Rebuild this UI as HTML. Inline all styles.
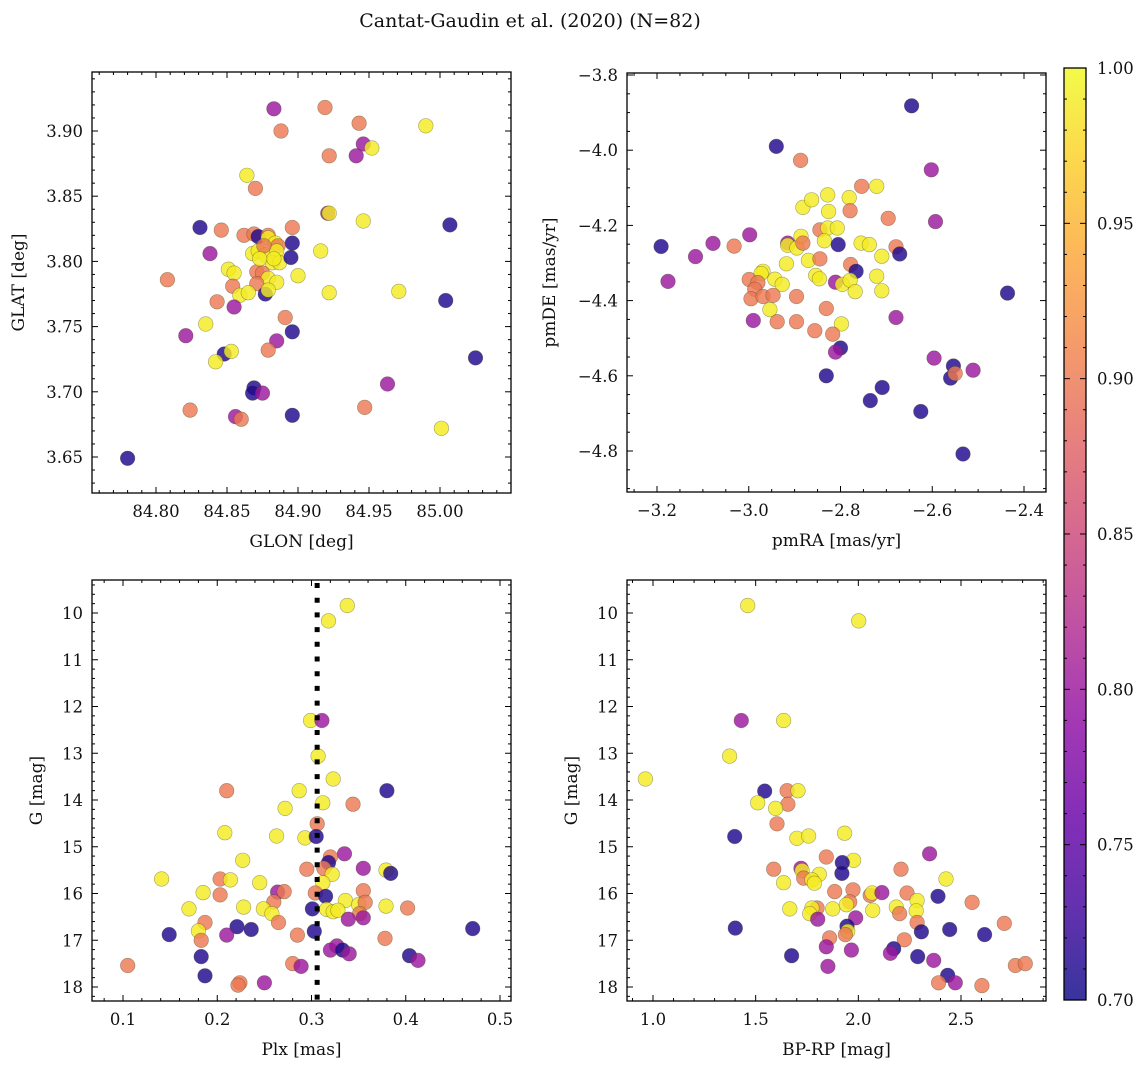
<!DOCTYPE html>
<html><head><meta charset="utf-8"><style>
html,body{margin:0;padding:0;background:#fff;}
svg text{font-family:"DejaVu Serif","Liberation Serif",serif;fill:#111;}
</style></head><body>
<svg id="fig" width="1148" height="1068" viewBox="0 0 1148 1068" xmlns="http://www.w3.org/2000/svg">
<text x="530" y="27" font-size="19" text-anchor="middle">Cantat-Gaudin et al. (2020) (N=82)</text>
<g id="layer"></g>
</svg>
<script>
// ---- Panel 1: GLON vs GLAT ----
const glon = [84.883,84.919,84.888,84.943,84.990,84.946,84.952,84.941,84.922,84.864,84.870,84.921,84.922,84.946,84.831,84.846,84.862,84.869,84.872,84.879,84.896,85.007,84.879,84.884,84.896,84.886,84.838,84.868,84.872,84.877,84.885,84.882,84.887,84.895,84.916,84.851,84.855,84.871,84.875,84.808,84.900,84.879,84.885,84.871,84.854,84.859,84.865,84.877,84.879,84.922,84.971,84.843,85.004,84.855,84.891,84.835,84.896,84.821,84.885,84.879,84.848,84.853,84.842,85.025,84.869,84.868,84.875,84.963,84.824,84.947,84.856,84.860,84.896,85.001,84.780,84.876,84.883,84.873];
const glat = [3.917,3.918,3.900,3.906,3.904,3.890,3.887,3.881,3.881,3.866,3.856,3.837,3.837,3.831,3.826,3.824,3.820,3.821,3.819,3.820,3.826,3.828,3.818,3.814,3.814,3.812,3.806,3.806,3.808,3.805,3.808,3.799,3.799,3.803,3.808,3.794,3.791,3.792,3.791,3.786,3.789,3.787,3.784,3.783,3.781,3.774,3.776,3.775,3.778,3.776,3.777,3.769,3.770,3.765,3.757,3.752,3.746,3.743,3.739,3.732,3.729,3.731,3.723,3.726,3.703,3.699,3.699,3.706,3.686,3.688,3.681,3.679,3.682,3.672,3.649,3.812,3.802,3.802];
const prob1 = [0.80,0.90,0.90,0.90,0.99,0.80,0.99,0.80,0.90,0.99,0.90,0.80,0.99,0.99,0.71,0.90,0.90,0.90,0.71,0.90,0.90,0.71,0.99,0.99,0.71,0.90,0.80,0.99,0.99,0.99,0.99,0.99,0.99,0.71,0.99,0.99,0.99,0.90,0.90,0.90,0.99,0.99,0.99,0.90,0.90,0.99,0.99,0.71,0.99,0.99,0.99,0.90,0.71,0.80,0.90,0.99,0.71,0.80,0.80,0.90,0.71,0.99,0.99,0.71,0.71,0.71,0.80,0.80,0.90,0.90,0.80,0.90,0.71,0.99,0.71,0.90,0.99,0.99];

// ---- Panel 2: pmRA vs pmDE ----
const pmra = [-3.191,-3.176,-3.116,-3.078,-3.032,-2.998,-2.940,-2.887,-2.915,-2.915,-2.895,-2.886,-2.882,-2.882,-2.863,-2.845,-2.828,-2.807,-2.835,-2.828,-2.826,-2.781,-2.754,-2.721,-2.779,-2.696,-2.805,-2.755,-2.737,-2.679,-2.671,-2.710,-2.602,-2.593,-2.645,-2.436,-2.918,-2.870,-2.845,-2.778,-2.766,-2.969,-2.973,-2.943,-2.927,-2.854,-2.846,-2.811,-2.796,-2.779,-2.768,-2.721,-2.710,-2.999,-2.980,-2.987,-2.995,-2.969,-2.947,-2.896,-2.954,-2.990,-2.938,-2.896,-2.831,-2.798,-2.856,-2.817,-2.800,-2.811,-2.679,-2.831,-2.735,-2.709,-2.625,-2.596,-2.554,-2.560,-2.550,-2.511,-2.533];
const pmde = [-4.256,-4.349,-4.283,-4.248,-4.255,-4.225,-3.990,-4.027,-4.247,-4.253,-4.260,-4.229,-4.247,-4.152,-4.132,-4.212,-4.207,-4.207,-4.241,-4.119,-4.163,-4.126,-4.096,-4.096,-4.161,-4.181,-4.251,-4.247,-4.251,-4.257,-4.276,-4.282,-4.052,-4.190,-3.882,-4.380,-4.302,-4.293,-4.289,-4.304,-4.322,-4.322,-4.328,-4.343,-4.357,-4.333,-4.342,-4.351,-4.357,-4.346,-4.376,-4.335,-4.374,-4.344,-4.352,-4.370,-4.395,-4.389,-4.386,-4.389,-4.424,-4.453,-4.456,-4.456,-4.421,-4.462,-4.480,-4.489,-4.526,-4.537,-4.445,-4.600,-4.666,-4.631,-4.695,-4.553,-4.574,-4.606,-4.594,-4.585,-4.808];
const prob2 = [0.71,0.80,0.80,0.80,0.90,0.80,0.71,0.90,0.80,0.99,0.99,0.99,0.90,0.99,0.99,0.90,0.99,0.99,0.99,0.99,0.99,0.99,0.90,0.99,0.90,0.90,0.71,0.99,0.99,0.90,0.71,0.99,0.80,0.80,0.71,0.71,0.99,0.99,0.90,0.90,0.71,0.99,0.99,0.99,0.99,0.99,0.99,0.80,0.99,0.99,0.99,0.99,0.99,0.90,0.90,0.90,0.90,0.90,0.90,0.90,0.99,0.80,0.90,0.90,0.90,0.99,0.90,0.90,0.71,0.80,0.80,0.71,0.71,0.71,0.71,0.80,0.71,0.71,0.90,0.80,0.71];

// ---- Panel 3: Plx vs G ----
const plx = [0.338,0.318,0.299,0.311,0.307,0.323,0.287,0.210,0.380,0.312,0.344,0.272,0.306,0.208,0.263,0.293,0.305,0.227,0.335,0.320,0.318,0.355,0.295,0.313,0.322,0.379,0.384,0.141,0.203,0.214,0.245,0.312,0.185,0.203,0.264,0.271,0.304,0.315,0.355,0.260,0.336,0.350,0.357,0.379,0.402,0.170,0.228,0.249,0.258,0.301,0.316,0.323,0.328,0.351,0.339,0.355,0.187,0.265,0.221,0.236,0.149,0.180,0.210,0.285,0.303,0.471,0.183,0.378,0.320,0.327,0.333,0.340,0.183,0.404,0.413,0.105,0.280,0.289,0.187,0.224,0.222,0.250];
const gmag3 = [9.84,10.17,12.30,12.30,13.06,13.55,13.80,13.80,13.80,14.06,14.09,14.18,14.51,14.70,14.77,14.81,14.78,15.29,15.15,15.22,15.34,15.46,15.48,15.46,15.59,15.50,15.57,15.69,15.69,15.71,15.77,15.77,15.98,16.03,15.97,15.96,15.99,16.06,15.94,16.18,16.15,16.24,16.19,16.27,16.31,16.33,16.29,16.33,16.43,16.33,16.34,16.39,16.36,16.43,16.55,16.52,16.62,16.62,16.71,16.77,16.88,16.80,16.89,16.89,16.81,16.75,17.00,16.96,17.21,17.12,17.21,17.29,17.35,17.33,17.43,17.54,17.50,17.56,17.76,17.91,17.96,17.91];
const prob3 = [0.99,0.99,0.99,0.80,0.99,0.99,0.99,0.90,0.71,0.99,0.90,0.99,0.90,0.99,0.99,0.99,0.71,0.99,0.80,0.90,0.71,0.80,0.90,0.90,0.99,0.99,0.71,0.99,0.90,0.99,0.99,0.99,0.99,0.90,0.80,0.90,0.90,0.71,0.90,0.90,0.99,0.99,0.90,0.99,0.90,0.99,0.99,0.99,0.99,0.71,0.99,0.99,0.99,0.90,0.80,0.80,0.90,0.90,0.71,0.71,0.71,0.99,0.80,0.90,0.71,0.71,0.90,0.90,0.80,0.80,0.71,0.80,0.71,0.71,0.80,0.90,0.90,0.80,0.71,0.90,0.90,0.80];
const plxRef = [0.306];

// ---- Panel 4: BP-RP vs G ----
const bprp = [1.461,2.002,1.430,1.636,1.373,0.963,1.544,1.653,1.706,1.657,1.510,1.597,1.604,1.398,1.701,1.758,1.933,1.844,1.977,1.922,1.920,2.347,1.588,1.721,1.726,1.734,1.810,1.774,1.786,2.208,2.427,1.636,1.885,1.974,2.058,2.067,2.115,2.237,2.388,2.554,2.286,2.282,2.185,2.201,2.286,2.307,2.445,2.615,2.711,1.958,1.942,2.070,1.875,1.799,1.774,1.763,1.666,1.802,1.987,1.945,1.948,1.937,1.860,1.401,2.224,1.844,1.966,2.172,2.156,2.289,2.367,1.675,1.852,2.765,2.813,2.435,2.391,2.472,2.602];
const gmag4 = [9.84,10.17,12.30,12.30,13.06,13.55,13.81,13.80,13.80,14.09,14.06,14.18,14.51,14.78,14.82,14.77,14.71,15.22,15.29,15.34,15.57,15.15,15.48,15.46,15.51,15.67,15.59,15.71,15.78,15.48,15.69,15.77,15.96,15.92,16.04,15.99,15.98,15.99,16.06,16.19,16.15,16.37,16.29,16.43,16.62,16.82,16.77,16.88,16.64,16.18,16.24,16.36,16.33,16.31,16.31,16.43,16.33,16.55,16.52,16.70,16.81,16.88,16.95,16.74,16.99,17.14,17.21,17.18,17.28,17.35,17.43,17.33,17.56,17.54,17.50,17.75,17.91,17.91,17.97];
const prob4 = [0.99,0.99,0.80,0.99,0.99,0.99,0.71,0.90,0.99,0.90,0.99,0.99,0.90,0.71,0.99,0.99,0.99,0.90,0.99,0.71,0.71,0.80,0.90,0.80,0.99,0.90,0.99,0.99,0.99,0.90,0.99,0.99,0.90,0.90,0.90,0.99,0.80,0.90,0.71,0.90,0.99,0.99,0.99,0.90,0.90,0.71,0.71,0.71,0.90,0.90,0.99,0.99,0.99,0.90,0.99,0.99,0.99,0.80,0.80,0.71,0.99,0.90,0.90,0.71,0.90,0.80,0.80,0.71,0.80,0.71,0.80,0.71,0.80,0.90,0.90,0.71,0.90,0.80,0.90];

// ---- Colorbar ----
const cbTicks = [0.70,0.75,0.80,0.85,0.90,0.95,1.00];

const NS = "http://www.w3.org/2000/svg";
const layer = document.getElementById('layer');
function mk(tag, attrs, parent){ const e=document.createElementNS(NS,tag); for(const k in attrs) e.setAttribute(k,attrs[k]); (parent||layer).appendChild(e); return e; }

const plasma = [[13,8,135],[65,4,157],[106,0,168],[143,13,164],[177,42,144],[204,71,120],[225,100,98],[242,132,75],[252,166,54],[252,206,37],[240,249,33]];
function cmap(v){ let t=(v-0.7)/0.3; t=Math.max(0,Math.min(1,t)); const f=t*10; const i=Math.min(9,Math.floor(f)); const r=f-i; const a=plasma[i], b=plasma[i+1]; return 'rgb('+a.map((c,j)=>Math.round(c+(b[j]-c)*r)).join(',')+')'; }

function linear(d0,p0,d1,p1){ return v=>p0+(v-d0)*(p1-p0)/(d1-d0); }

function panel(cfg){
  const g = mk('g',{});
  
  
  const sx = cfg.sx, sy = cfg.sy;
  const clipId = cfg.name+'-clip';
  const cp = mk('clipPath',{id:clipId},g); mk('rect',{x:cfg.L,y:cfg.T,width:cfg.R-cfg.L,height:cfg.B-cfg.T},cp);
  const pts = mk('g',{'clip-path':'url(#'+clipId+')'},g);
  
  
  for(let i=0;i<cfg.xs.length;i++){
    const c = mk('circle',{cx:sx(cfg.xs[i]).toFixed(1),cy:sy(cfg.ys[i]).toFixed(1),r:7.3,fill:cmap(cfg.ps[i]),'fill-opacity':0.82,stroke:'rgba(60,60,20,0.45)','stroke-width':0.6},pts);
    
    
  }
  if(cfg.extra) cfg.extra(pts);
  const tk = mk('g',{stroke:'#000','stroke-width':1},g);
  
  
  const eps=1e-9;
  for(let v=cfg.xmin; v<=cfg.xmax+eps; v+=cfg.xminor){
    const x=sx(v); if(x<cfg.L||x>cfg.R) continue;
    const isMaj = Math.abs(Math.round(v/cfg.xmajor)*cfg.xmajor - v) < cfg.xminor*0.1;
    const len = isMaj?6:3;
    mk('line',{x1:x,y1:cfg.B,x2:x,y2:cfg.B-len},tk); mk('line',{x1:x,y1:cfg.T,x2:x,y2:cfg.T+len},tk);
  }
  for(let v=cfg.ymin; v<=cfg.ymax+eps; v+=cfg.yminor){
    const y=sy(v); if(y<cfg.T||y>cfg.B) continue;
    const isMaj = Math.abs(Math.round(v/cfg.ymajor)*cfg.ymajor - v) < cfg.yminor*0.1;
    const len = isMaj?6:3;
    mk('line',{x1:cfg.L,y1:y,x2:cfg.L+len,y2:y},tk); mk('line',{x1:cfg.R,y1:y,x2:cfg.R-len,y2:y},tk);
  }
  cfg.xticks.forEach(v=>{ const t=mk('text',{x:sx(v),y:cfg.B+24,'font-size':16.5,'text-anchor':'middle'},g); t.textContent=cfg.fmt(v,cfg.xd);
      });
  cfg.yticks.forEach(v=>{ const t=mk('text',{x:cfg.L-9,y:sy(v)+6,'font-size':16.5,'text-anchor':'end'},g); t.textContent=cfg.fmt(v,cfg.yd);
      });
  mk('rect',{x:cfg.L,y:cfg.T,width:cfg.R-cfg.L,height:cfg.B-cfg.T,fill:'none',stroke:'#000','stroke-width':1.3},g);
  const xl=mk('text',{x:(cfg.L+cfg.R)/2,y:cfg.B+54,'font-size':17,'text-anchor':'middle'},g); xl.textContent=cfg.xlabel;
   
  const yx=cfg.ylx, yy=(cfg.T+cfg.B)/2;
  const yl=mk('text',{x:yx,y:yy,'font-size':17,'text-anchor':'middle',transform:'rotate(-90 '+yx+' '+yy+')'},g); yl.textContent=cfg.ylabel;
   
}
function fmt(v,d){ const s=Math.abs(v).toFixed(d); return (v< -1e-9?'\u2212':'')+s; }

panel({name:'glon-glat-panel',L:92,R:511,T:72,B:493,xs:glon,ys:glat,ps:prob1,
  sx:linear(84.80,156,85.00,440), sy:linear(3.65,457,3.90,131),
  xmin:84.70,xmax:85.10,xminor:0.01,xmajor:0.05,ymin:3.60,ymax:3.95,yminor:0.01,ymajor:0.05,
  xticks:[84.80,84.85,84.90,84.95,85.00],yticks:[3.65,3.70,3.75,3.80,3.85,3.90],xd:2,yd:2,fmt:fmt,
  xlabel:'GLON [deg]',ylabel:'GLAT [deg]',ylx:24});
panel({name:'pm-panel',L:627,R:1046,T:73,B:492,xs:pmra,ys:pmde,ps:prob2,
  sx:linear(-3.2,657,-2.4,1024), sy:linear(-3.8,75,-4.8,451),
  xmin:-3.4,xmax:-2.2,xminor:0.05,xmajor:0.2,ymin:-5.0,ymax:-3.7,yminor:0.05,ymajor:0.2,
  xticks:[-3.2,-3.0,-2.8,-2.6,-2.4],yticks:[-3.8,-4.0,-4.2,-4.4,-4.6,-4.8],xd:1,yd:1,fmt:fmt,
  xlabel:'pmRA [mas/yr]',ylabel:'pmDE [mas/yr]',ylx:555});
panel({name:'plx-g-panel',L:92,R:511,T:580,B:1001,xs:plx,ys:gmag3,ps:prob3,
  sx:linear(0.1,123,0.5,500), sy:linear(10,613,18,987),
  xmin:0.0,xmax:0.6,xminor:0.02,xmajor:0.1,ymin:9,ymax:19,yminor:0.2,ymajor:1,
  xticks:[0.1,0.2,0.3,0.4,0.5],yticks:[10,11,12,13,14,15,16,17,18],xd:1,yd:0,fmt:fmt,
  xlabel:'Plx [mas]',ylabel:'G [mag]',ylx:42,
  extra:function(pg){ const x=linear(0.1,123,0.5,500)(plxRef[0]);
    const l=mk('line',{x1:x,y1:583,x2:x,y2:1001,stroke:'#000','stroke-width':5,'stroke-dasharray':'5 9.7'},pg);
      }});
panel({name:'cmd-panel',L:627,R:1046,T:580,B:1001,xs:bprp,ys:gmag4,ps:prob4,
  sx:linear(1.0,653,2.5,961), sy:linear(10,613,18,987),
  xmin:0.5,xmax:3.2,xminor:0.1,xmajor:0.5,ymin:9,ymax:19,yminor:0.2,ymajor:1,
  xticks:[1.0,1.5,2.0,2.5],yticks:[10,11,12,13,14,15,16,17,18],xd:1,yd:0,fmt:fmt,
  xlabel:'BP-RP [mag]',ylabel:'G [mag]',ylx:577});

(function(){
  const cb = mk('g',{});  
  const defs = mk('defs',{},cb);
  const lg = mk('linearGradient',{id:'cbgrad',x1:0,y1:1,x2:0,y2:0},defs);
  plasma.forEach((c,i)=>mk('stop',{offset:(i/10),'stop-color':'rgb('+c.join(',')+')','stop-opacity':0.82},lg));
  const T=68,B=1000,L=1064,R=1086;
  mk('rect',{x:L,y:T,width:R-L,height:B-T,fill:'url(#cbgrad)'},cb);
  mk('rect',{x:L,y:T,width:R-L,height:B-T,fill:'none',stroke:'#000','stroke-width':1.3},cb);
  const sy=linear(0.7,B,1.0,T);
  for(let v=0.70; v<=1.0001; v+=0.01){ const y=sy(v); const maj=Math.abs(Math.round(v*20)/20-v)<0.001; const len=maj?6:3;
    mk('line',{x1:R,y1:y,x2:R-len,y2:y,stroke:'#000','stroke-width':1},cb); mk('line',{x1:L,y1:y,x2:L+len,y2:y,stroke:'#000','stroke-width':1},cb); }
  cbTicks.forEach(v=>{ const t=mk('text',{x:R+11,y:sy(v)+6,'font-size':16.5},cb); t.textContent=v.toFixed(2);
      });
})();
</script>
</body></html>
